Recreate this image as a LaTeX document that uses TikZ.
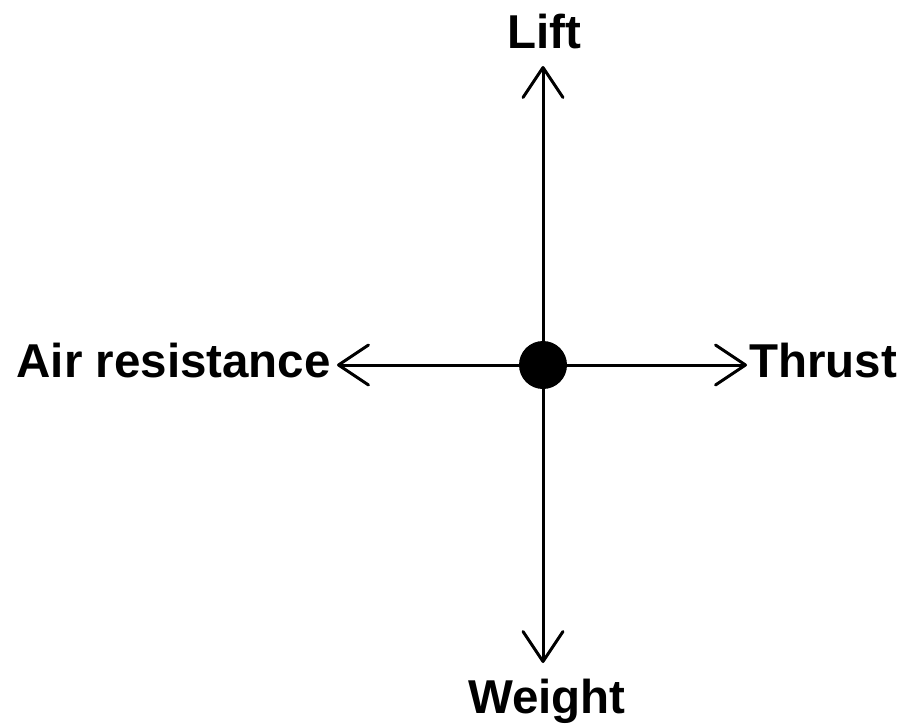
\documentclass[tikz,border=0pt]{standalone}
\usepackage{fontspec}
\setmainfont{Liberation Sans}
\usetikzlibrary{arrows.meta}
\begin{document}
\begin{tikzpicture}[x=1pt,y=-1pt,
  force/.style={line width=3pt,-{Straight Barb[length=30pt,width=40pt,line cap=round,line join=round]}},
  lbl/.style={inner sep=0pt,font=\fontsize{47.5}{50}\selectfont\bfseries},
  dotnode/.style={circle,fill=black,draw=none,minimum size=48pt,inner sep=0pt}]
\useasboundingbox (0,0) rectangle (904,724);
\coordinate (c) at (543,365);
\coordinate (tn) at (543,66);
\coordinate (ts) at (543,663);
\coordinate (tw) at (337,365);
\coordinate (te) at (747,365);
\draw[force] (c) -- (tn);
\draw[force] (c) -- (ts);
\draw[force] (c) -- (tw);
\draw[force] (c) -- (te);
\node[dotnode] (dot) at (c) {};
\node[lbl,anchor=base] (lift) at (544,48) {Lift};
\node[lbl,anchor=base] (weight) at (547,713) {Weight};
\node[lbl,anchor=base east] (air) at (331,377) {Air resistance};
\node[lbl,anchor=base west] (thrust) at (749,377) {Thrust};
\end{tikzpicture}
\end{document}
